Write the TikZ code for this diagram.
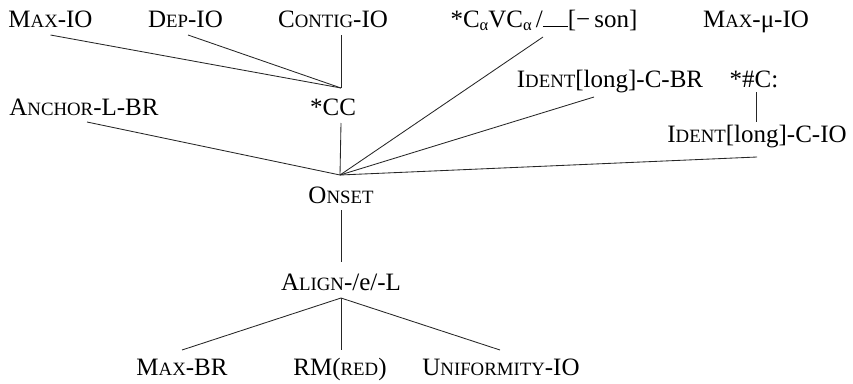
\documentclass[tikz,border=0pt]{standalone}
\usepackage{fontspec}
\setmainfont{Liberation Serif}
% faked small capitals and a lowered small alpha
\newcommand\sca[1]{{\fontsize{18.8}{20}\selectfont #1}}
\newcommand\alp{\raisebox{-3.5pt}{\fontsize{16.5}{16.5}\selectfont α}}
\begin{document}
\begin{tikzpicture}[x=1pt,y=-1pt,
  lbl/.style={anchor=base,inner sep=0pt,font=\fontsize{25}{28}\selectfont},
  link/.style={line width=0.85pt,draw=black!85}]
\useasboundingbox (0,0) rectangle (853,383);

% constraint labels
\node[lbl] (maxio)   at (50.5,27)  {M\sca{AX}-IO};
\node[lbl] (depio)   at (185.5,27) {D\sca{EP}-IO};
\node[lbl] (contig)  at (333,27)   {C\sca{ONTIG}-IO};
\node[lbl] (cvc)     at (544,27)   {*C\alp VC\alp\,/\rule{25pt}{0.7pt}[−\,son]};
\node[lbl] (maxmu)   at (756,27)   {M\sca{AX}-μ-IO};
\node[lbl] (identbr) at (610,87)   {I\sca{DENT}[long]-C-BR};
\node[lbl] (hashc)   at (754,87)   {*\#C:};
\node[lbl] (anchor)  at (84,115)   {A\sca{NCHOR}-L-BR};
\node[lbl] (cc)      at (333,115)  {*CC};
\node[lbl] (identio) at (757,142)  {I\sca{DENT}[long]-C-IO};
\node[lbl] (onset)   at (341,203)  {O\sca{NSET}};
\node[lbl] (align)   at (341,290)  {A\sca{LIGN}-/e/-L};
\node[lbl] (maxbr)   at (182,375)  {M\sca{AX}-BR};
\node[lbl] (rm)      at (340,375)  {RM(\sca{RED})};
\node[lbl] (unif)    at (501,375)  {U\sca{NIFORMITY}-IO};

% junction points
\coordinate (ccTop)    at ([shift={(8,-27)}]cc.base);
\coordinate (ccBot)    at ([shift={(8,8)}]cc.base);
\coordinate (onsetTop) at ([shift={(-1,-28)}]onset.base);
\coordinate (onsetBot) at ([shift={(0,7)}]onset.base);
\coordinate (alignTop) at ([shift={(0,-28)}]align.base);
\coordinate (alignBot) at ([shift={(0,8)}]align.base);
\coordinate (hashcBot) at ([shift={(2,5)}]hashc.base);
\coordinate (identioTop) at ([shift={(0,-20)}]identio.base);

% connectors
\draw[link] ([shift={(0,8)}]maxio.base) -- (ccTop);
\draw[link] ([shift={(2.5,8)}]depio.base) -- (ccTop);
\draw[link] ([shift={(8,8)}]contig.base) -- (ccTop);
\draw[link] (ccBot) -- (onsetTop);
\draw[link] ([shift={(3,7)}]anchor.base) -- (onsetTop);
\draw[link] ([shift={(-1,10)}]cvc.base) -- (onsetTop);
\draw[link] ([shift={(-16,10)}]identbr.base) -- (onsetTop);
\draw[link] ([shift={(0,15)}]identio.base) -- (onsetTop);
\draw[link] (hashcBot) -- (hashcBot |- identioTop);
\draw[link] (onsetBot) -- (alignTop);
\draw[link] (alignBot) -- ([shift={(0,-25)}]maxbr.base);
\draw[link] (alignBot) -- ([shift={(1,-25)}]rm.base);
\draw[link] (alignBot) -- ([shift={(-1,-25)}]unif.base);
\end{tikzpicture}
\end{document}
